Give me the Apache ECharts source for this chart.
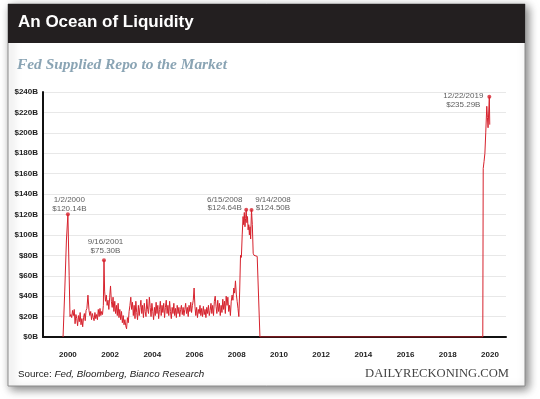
<!DOCTYPE html>
<html lang="en">
  <head>
    <meta charset="UTF-8" />
    <title>An Ocean of Liquidity</title>
    <script src="https://cdn.jsdelivr.net/npm/echarts@6/dist/echarts.min.js"></script>
    <style>
      html, body { margin: 0; padding: 0; background: #fff; }
      #chart { width: 540px; height: 399px; }
    </style>
  </head>
  <body>
    <div id="chart"></div>
    <script>
      // decimal years
      var years = [
        1999.77, 1999.85, 1999.93, 2000.00, 2000.06, 2000.10,
        2000.14, 2000.18, 2000.22, 2000.26, 2000.30, 2000.34, 2000.38, 2000.42, 2000.46, 2000.50,
        2000.54, 2000.58, 2000.62, 2000.66, 2000.70, 2000.74, 2000.78, 2000.82, 2000.86, 2000.90,
        2000.95, 2001.00, 2001.04, 2001.08, 2001.12, 2001.16, 2001.20, 2001.24, 2001.28, 2001.32,
        2001.36, 2001.40, 2001.44, 2001.48, 2001.52, 2001.56, 2001.60, 2001.64, 2001.68, 2001.71,
        2001.74, 2001.78, 2001.82, 2001.86, 2001.90, 2001.94, 2001.98, 2002.02, 2002.06, 2002.10,
        2002.14, 2002.18, 2002.22, 2002.26, 2002.30, 2002.34, 2002.38, 2002.42, 2002.46, 2002.50,
        2002.54, 2002.58, 2002.62, 2002.66, 2002.70, 2002.74, 2002.78, 2002.82, 2002.86, 2002.90,
        2002.94, 2002.98, 2003.02, 2003.06, 2003.10, 2003.14, 2003.18, 2003.22, 2003.26, 2003.30,
        2003.34, 2003.38, 2003.42, 2003.46, 2003.50, 2003.54, 2003.58, 2003.62, 2003.66, 2003.70,
        2003.74, 2003.78, 2003.82, 2003.86, 2003.90, 2003.94, 2003.98, 2004.02, 2004.06, 2004.10,
        2004.14, 2004.18, 2004.22, 2004.26, 2004.30, 2004.34, 2004.38, 2004.42, 2004.46, 2004.50,
        2004.54, 2004.58, 2004.62, 2004.66, 2004.70, 2004.74, 2004.78, 2004.82, 2004.86, 2004.90,
        2004.94, 2004.98, 2005.02, 2005.06, 2005.10, 2005.14, 2005.18, 2005.22, 2005.26, 2005.30,
        2005.34, 2005.38, 2005.42, 2005.46, 2005.50, 2005.54, 2005.58, 2005.62, 2005.66, 2005.70,
        2005.74, 2005.78, 2005.82, 2005.86, 2005.90, 2005.94, 2005.98, 2006.02, 2006.06, 2006.10,
        2006.14, 2006.18, 2006.22, 2006.26, 2006.30, 2006.34, 2006.38, 2006.42, 2006.46, 2006.50,
        2006.54, 2006.58, 2006.62, 2006.66, 2006.70, 2006.74, 2006.78, 2006.82, 2006.86, 2006.90,
        2006.94, 2006.98, 2007.02, 2007.06, 2007.10, 2007.14, 2007.18, 2007.22, 2007.26, 2007.30,
        2007.34, 2007.38, 2007.42, 2007.46, 2007.50, 2007.54, 2007.58, 2007.62, 2007.66, 2007.70,
        2007.74, 2007.78, 2007.82, 2007.86, 2007.90, 2007.94, 2007.98, 2008.02, 2008.06, 2008.10,
        2008.14, 2008.18, 2008.22, 2008.26, 2008.30, 2008.33, 2008.36, 2008.39, 2008.42, 2008.45,
        2008.48, 2008.51, 2008.54, 2008.57, 2008.60, 2008.63, 2008.66, 2008.70, 2008.74, 2008.78,
        2008.82, 2008.90, 2008.97, 2009.10,
        2019.66, 2019.68, 2019.72, 2019.76, 2019.80, 2019.85, 2019.88, 2019.91, 2019.97, 2019.99
      ];

      // repo supplied, $B
      var repo = [
        0, 45, 95, 120.14, 60, 20,
        22, 19, 26, 21, 27, 13, 22, 18, 11, 21,
        15, 24, 12, 18, 10, 19, 23, 16, 26, 28,
        41, 26, 21, 25, 17, 23, 19, 16, 24, 18,
        22, 17, 27, 20, 28, 21, 25, 22, 31, 75.30,
        45, 35, 41, 31, 36, 27, 39, 50, 35, 29,
        39, 25, 35, 23, 31, 21, 33, 19, 27, 17,
        25, 14, 21, 12, 17, 11, 8, 19, 14, 25,
        31, 39, 27, 34, 21, 31, 18, 35, 24, 17,
        31, 21, 29, 36, 23, 31, 19, 33, 25, 20,
        37, 27, 23, 39, 29, 20, 33, 25, 17, 29,
        21, 34, 23, 31, 18, 27, 35, 21, 31, 24,
        33, 19, 29, 36, 23, 31, 21, 35, 25, 18,
        29, 23, 33, 21, 28, 19, 31, 23, 29, 20,
        27, 31, 22, 29, 21, 27, 33, 23, 29, 20,
        31, 25, 34, 24, 31, 36, 48, 30, 21, 29,
        19, 27, 23, 31, 21, 28, 20, 30, 22, 27,
        19, 29, 23, 31, 21, 26, 33, 23, 31, 21,
        35, 40, 30, 23, 36, 25, 33, 21, 31, 24,
        37, 27, 35, 23, 40, 31, 39, 25, 31, 21,
        35, 41, 36, 48, 43, 55, 42, 35, 28, 20,
        45, 80, 78, 100, 118, 110, 122, 108, 116, 124.64,
        112, 118, 105, 110, 100, 108, 96, 124.50, 110, 82,
        80, 80, 79, 0,
        0, 165, 172, 180, 200, 226, 215, 205, 235.29, 208
      ];

      // annotated points
      var noteYears = [2000.00, 2001.71, 2008.45, 2008.70, 2019.97];
      var noteValues = [120.14, 75.30, 124.64, 124.50, 235.29];
      var noteDates = ["1/2/2000", "9/16/2001", "6/15/2008", "9/14/2008", "12/22/2019"];
      var noteOffsets = [[1.5, 0.5], [1.5, -3.5], [-21.5, 4.5], [21.5, 4.5], [-26, 14]];

      var yearTicks = [2000, 2002, 2004, 2006, 2008, 2010, 2012, 2014, 2016, 2018, 2020];

      var lineData = years.map(function (y, i) { return [y, repo[i]]; });
      var noteData = noteYears.map(function (y, i) {
        return {
          value: [y, noteValues[i]],
          label: {
            offset: noteOffsets[i],
            formatter: noteDates[i] + "\n$" + noteValues[i].toFixed(2) + "B",
          },
        };
      });

      var red = "#d6222d";
      var chart = echarts.init(document.getElementById("chart"));

      chart.setOption({
        animation: false,
        textStyle: { fontFamily: "Liberation Sans, Arial, sans-serif" },
        graphic: [
          {
            type: "rect",
            z: -10,
            shape: { x: 8, y: 4, width: 517, height: 382 },
            style: {
              fill: "#fff",
              stroke: "#8c8c8c",
              lineWidth: 1,
              shadowBlur: 9,
              shadowOffsetX: 3,
              shadowOffsetY: 3,
              shadowColor: "rgba(0,0,0,0.5)",
            },
          },
          {
            type: "rect",
            z: -9,
            shape: { x: 8, y: 4, width: 517, height: 39 },
            style: { fill: "#231f20" },
          },
          {
            type: "text",
            left: 18,
            top: 14,
            style: {
              text: "An Ocean of Liquidity",
              fill: "#fff",
              font: "bold 17px Liberation Sans, Arial, sans-serif",
            },
          },
          {
            type: "text",
            left: 17,
            top: 58,
            style: {
              text: "Fed Supplied Repo to the Market",
              fill: "#8aa4b4",
              font: "italic bold 15.4px Liberation Serif, Times New Roman, serif",
            },
          },
          {
            type: "text",
            left: 18,
            top: 369,
            style: {
              text: "{n|Source: }{i|Fed, Bloomberg, Bianco Research}",
              rich: {
                n: { fontSize: 9.8, fill: "#222", fontFamily: "Liberation Sans, Arial, sans-serif" },
                i: { fontSize: 9.8, fill: "#222", fontStyle: "italic", fontFamily: "Liberation Sans, Arial, sans-serif" },
              },
            },
          },
          {
            type: "text",
            right: 31,
            top: 367,
            style: {
              text: "DAILYRECKONING.COM",
              fill: "#444",
              font: "12.6px Liberation Serif, Times New Roman, serif",
            },
          },
        ],
        grid: { left: 43, right: 34, top: 92, bottom: 62 },
        xAxis: {
          type: "value",
          min: 1998.82,
          max: 2020.76,
          splitLine: { show: false },
          axisLine: { lineStyle: { color: "#111", width: 2 } },
          axisTick: { show: false },
          axisLabel: {
            customValues: yearTicks,
            margin: 14,
            color: "#222",
            fontSize: 8,
            fontWeight: "bold",
            formatter: function (v) { return String(Math.round(v)); },
          },
        },
        yAxis: {
          type: "value",
          min: 0,
          max: 240,
          interval: 20,
          axisLine: { show: true, lineStyle: { color: "#111", width: 2 } },
          axisTick: { show: false },
          splitLine: { lineStyle: { color: "#e8e8e8", width: 1 } },
          axisLabel: {
            margin: 5,
            color: "#222",
            fontSize: 8,
            fontWeight: "bold",
            formatter: function (v) { return "$" + v + "B"; },
          },
        },
        series: [
          {
            type: "line",
            data: lineData,
            showSymbol: false,
            lineStyle: { color: red, width: 1 },
            z: 3,
          },
          {
            type: "scatter",
            data: noteData,
            symbolSize: 4,
            itemStyle: { color: red },
            z: 4,
            label: {
              show: true,
              position: "top",
              distance: 0,
              align: "center",
              color: "#333",
              fontSize: 8,
              lineHeight: 8.5,
            },
          },
        ],
      });
    </script>
  </body>
</html>
